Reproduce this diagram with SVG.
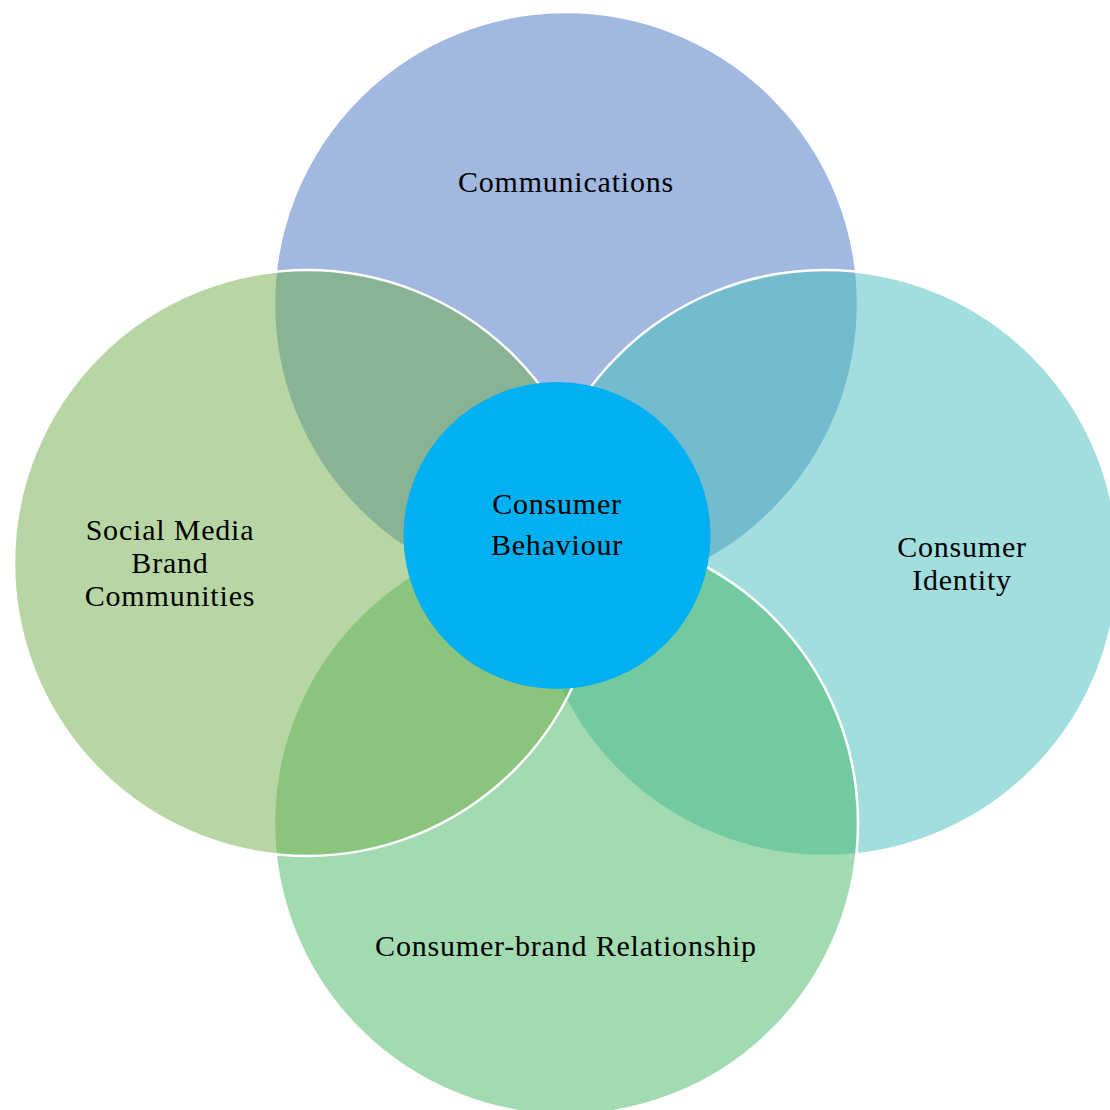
<svg xmlns="http://www.w3.org/2000/svg" width="1110" height="1110" viewBox="0 0 1110 1110">
<style>
.big{stroke:#FFFFFF;stroke-width:2.5;}
.lbl{font-family:"Liberation Serif","Times New Roman",serif;font-size:30px;fill:#000000;text-anchor:middle;letter-spacing:0.8px;}
</style>
<rect x="0" y="0" width="1110" height="1110" fill="#FFFFFF"/>
<g id="communications">
<circle class="big" cx="566" cy="304" r="292" fill="rgba(67,113,193,0.5)"/>
</g>
<g id="consumer-identity">
<circle class="big" cx="825" cy="563" r="293" fill="rgba(69,189,187,0.5)"/>
</g>
<g id="consumer-brand-relationship">
<circle class="big" cx="566" cy="823" r="292" fill="rgba(69,181,99,0.5)"/>
</g>
<g id="social-media-brand-communities">
<circle class="big" cx="307" cy="563" r="293" fill="rgba(113,173,73,0.5)"/>
</g>
<g id="consumer-behaviour">
<circle cx="557" cy="535.5" r="153.5" fill="#00B0F0"/>
</g>
<g id="labels">
<text class="lbl" x="566" y="192">Communications</text>
<text class="lbl" x="170" y="540">Social Media</text>
<text class="lbl" x="170" y="573">Brand</text>
<text class="lbl" x="170" y="606">Communities</text>
<text class="lbl" x="962" y="557">Consumer</text>
<text class="lbl" x="962" y="590">Identity</text>
<text class="lbl" x="557" y="514">Consumer</text>
<text class="lbl" x="557" y="555">Behaviour</text>
<text class="lbl" x="566" y="956">Consumer-brand Relationship</text>
</g>
<g id="connectors"></g>
</svg>
